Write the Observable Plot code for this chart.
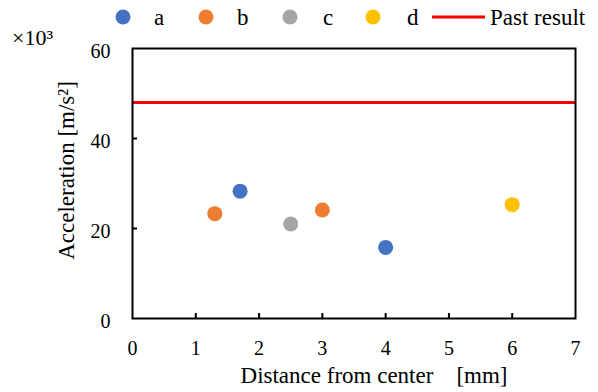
<!DOCTYPE html>
<html><head><meta charset="utf-8">
<script src="https://cdn.jsdelivr.net/npm/d3@7"></script>
<script src="https://cdn.jsdelivr.net/npm/@observablehq/plot@0.6"></script>
<style>
body{margin:0;background:#fff;}
</style></head><body>
<script>
// ---- data ----
const seriesNames = ["a", "b", "c", "d"];
const seriesColors = ["#4472C4", "#ED7D31", "#A5A5A5", "#FFC000"];
const pointSeries = ["a", "a", "b", "b", "c", "d"];
const distanceMm = [1.7, 4.0, 1.3, 3.0, 2.5, 6.0];
const accelK = [28.3, 15.8, 23.3, 24.1, 21.0, 25.3]; // ×10^3 m/s²
const pastResultK = [48];
const pastResultLabel = "Past result";
const xTicks = [0, 1, 2, 3, 4, 5, 6, 7];
const yTicks = [0, 20, 40, 60];

const points = pointSeries.map((s, i) => ({series: s, x: distanceMm[i], y: accelK[i]}));
const innerXTicks = xTicks.slice(1, -1);
const innerYTicks = yTicks.slice(1, -1);

// ---- layout ----
const W = 598, H = 392, mL = 132, mR = 23, mT = 48, mB = 74;
const innerW = W - mL - mR, innerH = H - mT - mB;
const FONT = "Liberation Serif";

const chart = Plot.plot({
  width: W, height: H,
  marginLeft: mL, marginRight: mR, marginTop: mT, marginBottom: mB,
  style: {fontSize: "20px", background: "white", color: "black"},
  x: {domain: [0, 7]},
  y: {domain: [0, 60]},
  color: {domain: seriesNames, range: seriesColors},
  marks: [
    Plot.axisX(xTicks, {tickSize: 0, tickPadding: 22, fontSize: 20, fontFamily: FONT, label: null}),
    Plot.axisY(yTicks, {tickSize: 0, tickPadding: 22, fontSize: 20, fontFamily: FONT, label: null, dy: 3}),
    Plot.tickX(innerXTicks, {x: d => d, insetTop: innerH - 5, stroke: "black", strokeWidth: 2}),
    Plot.tickY(innerYTicks, {y: d => d, insetRight: innerW - 5, stroke: "black", strokeWidth: 2}),
    Plot.ruleY(pastResultK, {stroke: "#FF0000", strokeWidth: 3}),
    Plot.dot(points, {x: "x", y: "y", fill: "series", r: 7.5}),
    Plot.frame({stroke: "black", strokeWidth: 2}),
    Plot.text(["Distance from center\u00a0\u00a0\u00a0\u00a0[mm]"], {frameAnchor: "bottom", textAnchor: "middle", lineAnchor: "middle", dx: 20, dy: 57, fontSize: 23, fontFamily: FONT}),
    Plot.text(["Acceleration [m/s\u00b2]"], {frameAnchor: "left", textAnchor: "middle", lineAnchor: "middle", rotate: -90, dx: -66, dy: -13, fontSize: 23, fontFamily: FONT})
  ]
});
chart.setAttribute("font-family", FONT);

// ---- legend & multiplier drawn into the same SVG ----
const svg = d3.select(chart);
const lg = svg.append("g").attr("font-size", 23).attr("font-family", FONT).attr("text-anchor", "start");
const dotCx = [123, 206, 290, 373];
const labelX = [154, 237, 323, 407];
seriesNames.forEach((name, i) => {
  lg.append("circle").attr("cx", dotCx[i]).attr("cy", 17).attr("r", 7.5).attr("fill", seriesColors[i]);
  lg.append("text").attr("x", labelX[i]).attr("y", 25).text(name);
});
lg.append("line").attr("x1", 432).attr("x2", 485).attr("y1", 17).attr("y2", 17).attr("stroke", "#FF0000").attr("stroke-width", 3);
lg.append("text").attr("x", 490).attr("y", 25).text(pastResultLabel);
svg.append("text").attr("x", 12).attr("y", 45).attr("font-size", 22).attr("font-family", FONT).attr("text-anchor", "start").text("\u00d710\u00b3");

svg.selectAll("text").attr("font-family", FONT);
document.body.appendChild(chart);
</script></body></html>
